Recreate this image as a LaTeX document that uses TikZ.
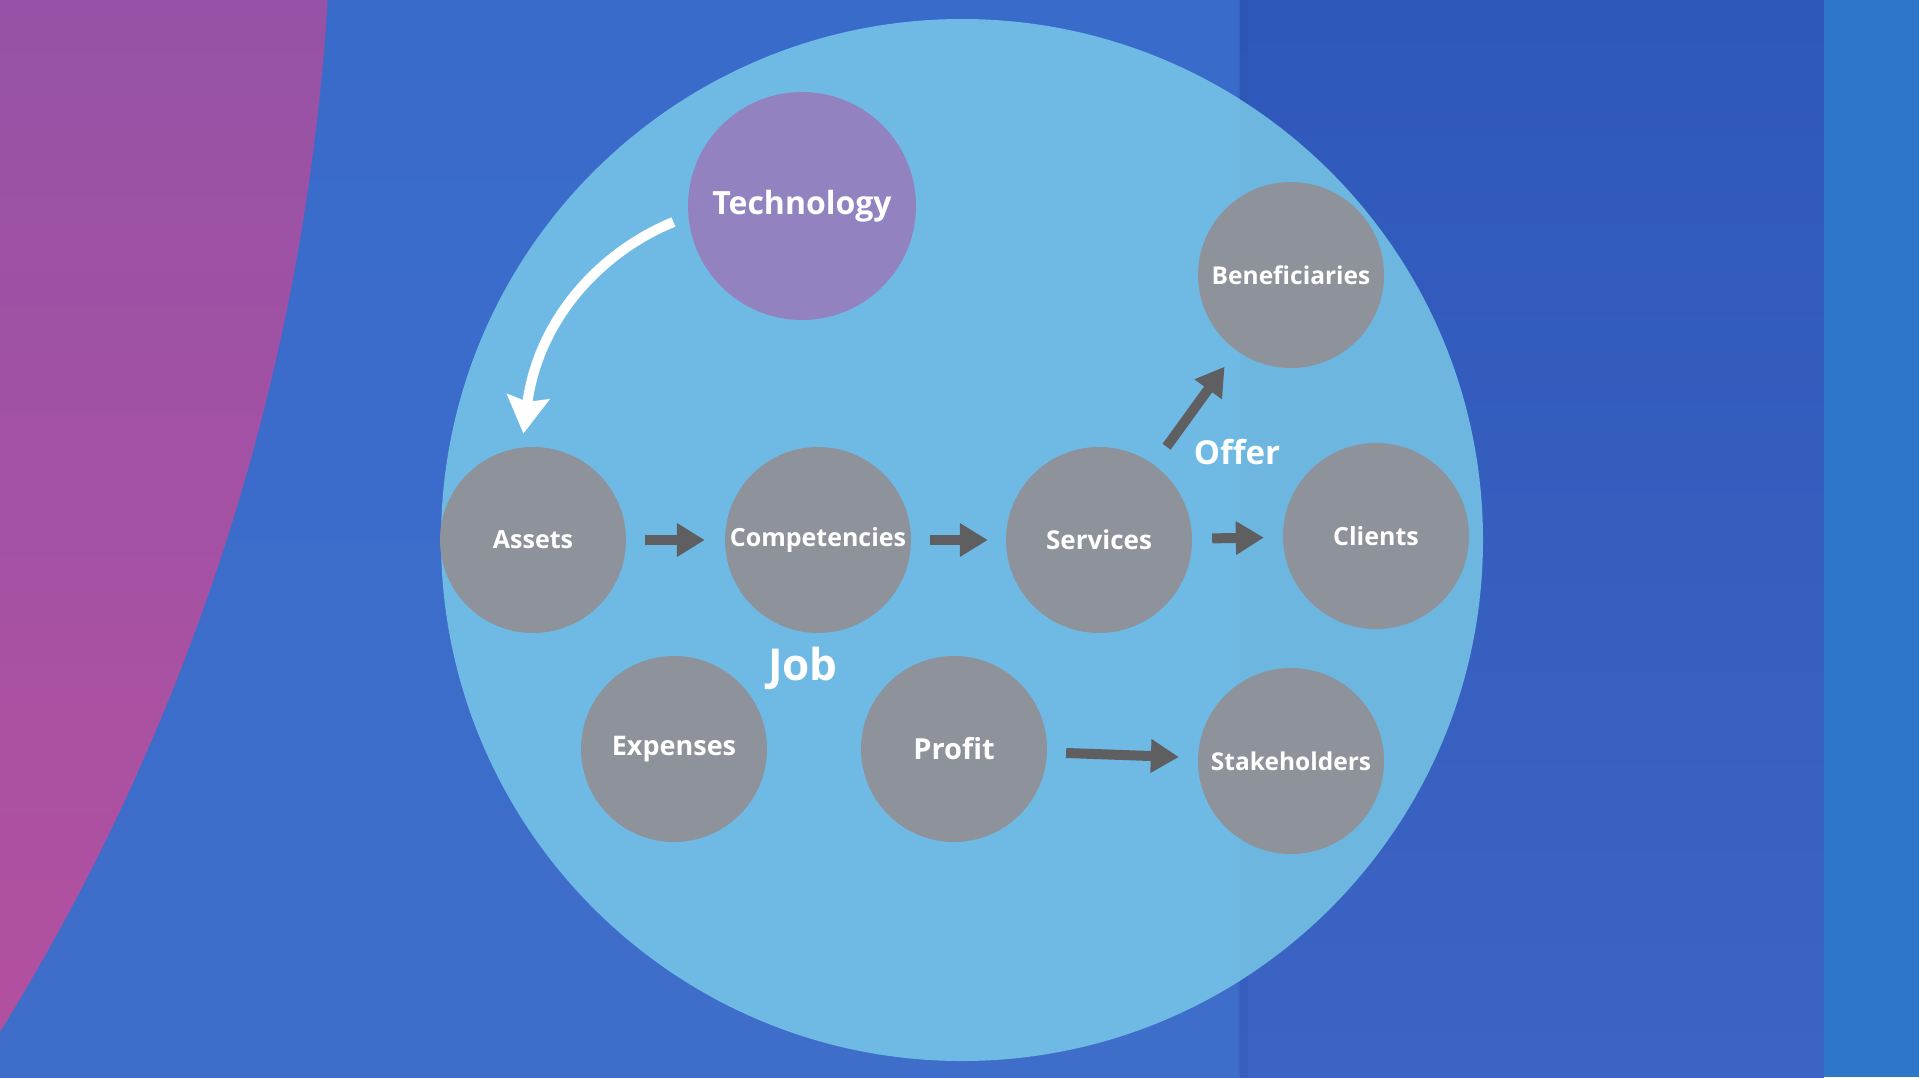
\documentclass[tikz,border=0pt]{standalone}
\usepackage{fontspec}
\setmainfont{Open Sans}
\usetikzlibrary{arrows.meta}
\definecolor{bgblue}{RGB}{57,107,203}
\definecolor{bgblueB}{RGB}{63,110,202}
\definecolor{bgdark}{RGB}{46,88,186}
\definecolor{bgdarkB}{RGB}{60,100,196}
\definecolor{stripblue}{RGB}{46,119,200}
\definecolor{purpleA}{RGB}{150,82,166}
\definecolor{purpleB}{RGB}{180,80,160}
\definecolor{bigcirc}{RGB}{111,186,228}
\definecolor{nodegray}{RGB}{142,146,154}
\definecolor{techpurple}{RGB}{146,131,192}
\definecolor{arrowgray}{RGB}{95,95,97}
\begin{document}
\begin{tikzpicture}[x=1pt,y=-1pt,
  bubble/.style={circle, fill=nodegray, minimum size=186pt, inner sep=0pt, text=white,
    font=\bfseries\fontsize{25}{30}\selectfont},
  grayarrow/.style={draw=arrowgray, line width=10pt, -{Triangle[length=28pt,width=32pt]}},
  whitearrow/.style={draw=white, line width=10pt, -{Stealth[length=37pt,width=42pt,inset=5pt]}},
  lbl/.style={text=white, inner sep=0pt, font=\bfseries\fontsize{33}{40}\selectfont}]
\useasboundingbox (0,0) rectangle (1919,1077);
% background
\shade[top color=bgblue, bottom color=bgblueB] (0,0) rectangle (1240,1077);
\shade[top color=bgdark, bottom color=bgdarkB] (1240,0) rectangle (1824,1077);
\fill[stripblue] (1824,0) rectangle (1919,1077);
\fill[bgdark!80!black, opacity=0.15] (1238,0) rectangle (1248,1077);
% purple arc
\begin{scope}
  \clip (-1896,-139) circle (2228);
  \shade[top color=purpleA, bottom color=purpleB] (0,0) rectangle (420,1077);
\end{scope}
% big circle
\fill[bigcirc] (962,540) circle (521);
\begin{scope}
  \clip (962,540) circle (521);
  \fill[black, opacity=0.02] (1240,0) rectangle (1824,1077);
\end{scope}
% nodes
\node[bubble, fill=techpurple, minimum size=228pt, font=\bfseries\fontsize{32}{38}\selectfont] (tech) at (802,206) {Technology};
\node[bubble] (assets) at (533,540) {Assets};
\node[bubble] (comp) at (818,540) {Competencies};
\node[bubble, font=\bfseries\fontsize{26}{31}\selectfont] (serv) at (1099,540) {Services};
\node[bubble] (cli) at (1376,536) {Clients};
\node[bubble, font=\bfseries\fontsize{24.5}{30}\selectfont] (ben) at (1291,275) {Beneficiaries};
\node[bubble, font=\bfseries\fontsize{27}{32}\selectfont] (exp) at (674,749) {Expenses};
\node[bubble, font=\bfseries\fontsize{29}{34}\selectfont] (prof) at (954,749) {Profit};
\node[bubble, font=\bfseries\fontsize{24.5}{30}\selectfont] (stake) at (1291,761) {Stakeholders};
% labels
\node[lbl] (offer) at (1237,452) {Offer};
\node[lbl, font=\bfseries\fontsize{44}{52}\selectfont] (job) at (803,668) {Job};
% arrows
\draw[grayarrow, shorten <=19pt, shorten >=20pt] (assets) -- (comp);
\draw[grayarrow, shorten <=19pt, shorten >=18pt] (comp) -- (serv);
\draw[grayarrow, shorten <=20pt, shorten >=19pt] (serv) -- (cli);
\draw[grayarrow, shorten <=22pt, shorten >=20pt] (serv) -- (ben);
\draw[grayarrow, shorten <=19pt, shorten >=19pt] (prof) -- (stake);
\draw[whitearrow, shorten <=16pt, shorten >=14pt] (tech.185) .. controls (600,252) and (538,320) .. (assets.97);
\end{tikzpicture}
\end{document}
